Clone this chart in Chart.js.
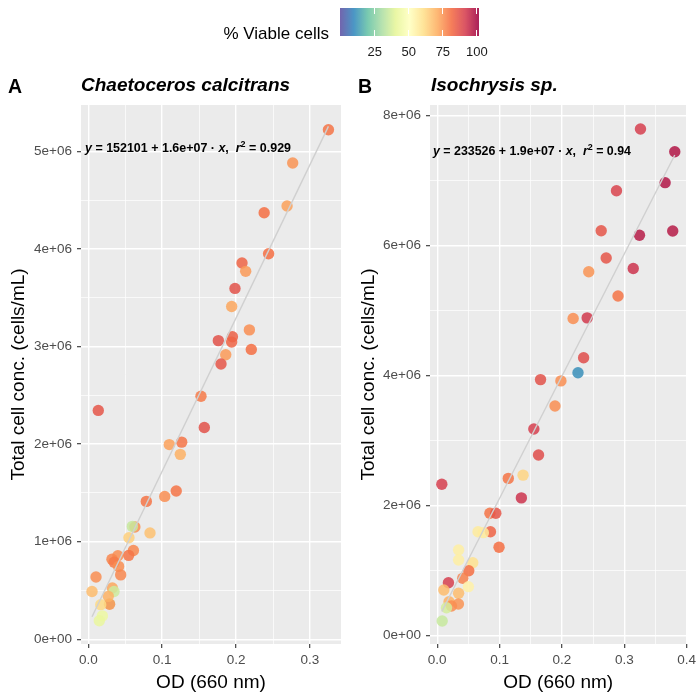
<!DOCTYPE html>
<html>
<head>
<meta charset="utf-8">
<script src="https://cdn.jsdelivr.net/npm/chart.js@4.4.1/dist/chart.umd.min.js"></script>
<style>
  body { margin: 0; background: #fff; font-family: "Liberation Sans", Arial, Helvetica, sans-serif; }
  #wrap { position: relative; width: 700px; height: 700px; overflow: hidden; }
  canvas { position: absolute; top: 0; }
  .abs { position: absolute; white-space: nowrap; color: #000; }
  .tag { font-weight: bold; font-size: 19.5px; line-height: 19.5px; }
  .ttl { font-weight: bold; font-style: italic; font-size: 19px; line-height: 19px; }
  .legtick { font-size: 13px; line-height: 13px; transform: translateX(-50%); color: #1a1a1a; }
  .barmark { position: absolute; width: 1px; background: #fff; }
</style>
</head>
<body>
<div id="wrap">
  <canvas id="chartA" width="350" height="700" style="left:0"></canvas>
  <canvas id="chartB" width="350" height="700" style="left:350px"></canvas>

  <div class="abs" style="right:371px; top:25px; font-size:17px; line-height:17px;">% Viable cells</div>
  <div id="colorbar" style="position:absolute; left:340px; top:8px; width:139px; height:28px;"></div>
  <div id="legendTicks"></div>

  <div class="abs tag" style="left:8px; top:77px;">A</div>
  <div class="abs ttl" style="left:81px; top:75px;">Chaetoceros calcitrans</div>
  <div class="abs tag" style="left:358px; top:77px;">B</div>
  <div class="abs ttl" style="left:431px; top:75px;">Isochrysis sp.</div>
</div>

<script>
// ---------- data: panel A (Chaetoceros calcitrans) ----------
const odA = [0.0285, 0.0288, 0.325, 0.2766, 0.269, 0.238, 0.244, 0.208, 0.213, 0.1985, 0.194, 0.218,
             0.195, 0.194, 0.176, 0.2206, 0.186, 0.1796, 0.1525, 0.0135, 0.157, 0.1264, 0.1096, 0.1245,
             0.119, 0.1034, 0.0785, 0.0835, 0.063, 0.0596, 0.055, 0.061, 0.0546, 0.040, 0.032, 0.035,
             0.041, 0.0438, 0.0104, 0.005, 0.0325, 0.0348, 0.027, 0.0168, 0.019, 0.0149];
const cellsA = [365000, 360000, 5220000, 4880000, 4440000, 4370000, 3950000, 3855000, 3770000, 3595000, 3410000, 3170000,
                3100000, 3045000, 3060000, 2970000, 2915000, 2820000, 2490000, 2345000, 2170000, 2020000, 1995000, 1895000,
                1520000, 1464000, 1413000, 1090000, 1150000, 1157000, 1040000, 910000, 860000, 857000, 820000, 790000,
                747000, 660000, 638000, 490000, 525000, 490000, 440000, 355000, 240000, 190000];
const viableA = [34, 75, 80, 75, 73, 81, 81, 83, 74, 87, 72, 76,
                 84, 83, 87, 81, 74, 86, 79, 86, 87, 80, 73, 70,
                 80, 76, 80, 67, 76, 35, 64, 77, 80, 76, 77, 79,
                 76, 77, 76, 68, 72, 36, 70, 62, 43, 42];

// ---------- data: panel B (Isochrysis sp.) ----------
const odB = [0.326, 0.381, 0.3655, 0.2875, 0.263, 0.3244, 0.3777, 0.271, 0.3144, 0.243, 0.290, 0.218,
             0.2405, 0.2348, 0.2258, 0.1657, 0.1984, 0.1889, 0.155, 0.1625, 0.1377, 0.114, 0.0074, 0.135,
             0.0845, 0.094, 0.0854, 0.0655, 0.074, 0.0992, 0.0343, 0.0343, 0.057, 0.0506, 0.041, 0.018,
             0.050, 0.0106, 0.0343, 0.019, 0.034, 0.0228, 0.0149, 0.008];
const cellsB = [7795000, 7446000, 6970000, 6846000, 6230000, 6160000, 6226000, 5810000, 5650000, 5600000, 5226000, 4880000,
                4890000, 4277000, 4046000, 3940000, 3920000, 3534000, 3180000, 2780000, 2470000, 2420000, 2330000, 2120000,
                1883000, 1883000, 1600000, 1600000, 1585000, 1360000, 1318000, 1165000, 1123000, 1000000, 883000, 815000,
                754000, 703000, 652000, 523000, 488000, 457000, 430000, 226000];
const viableB = [91, 98, 98, 90, 86, 97, 97, 86, 93, 75, 80, 76,
                 92, 88, 11, 87, 76, 76, 91, 88, 63, 80, 91, 93,
                 80, 86, 83, 57, 57, 81, 56, 56, 60, 81, 78, 91,
                 55, 68, 68, 70, 75, 76, 37, 35];

// fitted lines (from the printed equations)
const fitA = { intercept: 152101, slope: 1.57e7 };
const fitB = { intercept: 233526, slope: 1.88e7 };

// axis breaks
const xMajorA = [0, 0.1, 0.2, 0.3];
const xMinorA = [0.05, 0.15, 0.25];
const yMajorA = [0, 1e6, 2e6, 3e6, 4e6, 5e6];
const yMinorA = [0.5e6, 1.5e6, 2.5e6, 3.5e6, 4.5e6];
const xMajorB = [0, 0.1, 0.2, 0.3, 0.4];
const xMinorB = [0.05, 0.15, 0.25, 0.35];
const yMajorB = [0, 2e6, 4e6, 6e6, 8e6];
const yMinorB = [1e6, 3e6, 5e6, 7e6];

// colour scale: % viable cells
const legendBreaks = [25, 50, 75, 100];
const VIAB_MIN = -0.5, VIAB_MAX = 101.5;
const spectral = ['#5E4FA2', '#3288BD', '#66C2A5', '#ABDDA4', '#E6F598', '#FFFFBF',
                  '#FEE08B', '#FDAE61', '#F46D43', '#D53E4F', '#9E0142'];

const FONT = '"Liberation Sans", Arial, Helvetica, sans-serif';

function hexToRgb(h) {
    return [parseInt(h.slice(1, 3), 16), parseInt(h.slice(3, 5), 16), parseInt(h.slice(5, 7), 16)];
}

function viabColor(v, alpha) {
    let t = (v - VIAB_MIN) / (VIAB_MAX - VIAB_MIN);
    t = Math.min(1, Math.max(0, t)) * (spectral.length - 1);
    const i = Math.min(Math.floor(t), spectral.length - 2);
    const f = t - i;
    const a = hexToRgb(spectral[i]), b = hexToRgb(spectral[i + 1]);
    const c = a.map((ch, k) => Math.round(ch + (b[k] - ch) * f));
    return `rgba(${c[0]},${c[1]},${c[2]},${alpha})`;
}

function sci(v) {
    if (v === 0) return '0e+00';
    const e = Math.floor(Math.log10(Math.abs(v)) + 1e-9);
    const m = Math.round(v / Math.pow(10, e));
    return `${m}e+${String(e).padStart(2, '0')}`;
}

function isIn(v, list) {
    return list.some(m => Math.abs(m - v) < 1e-9 * Math.max(1, Math.abs(m)));
}

// grey panel background
const panelBg = {
    id: 'panelBg',
    beforeDraw(chart) {
        const { ctx, chartArea: a } = chart;
        ctx.save();
        ctx.fillStyle = '#EBEBEB';
        ctx.fillRect(a.left, a.top, a.right - a.left, a.bottom - a.top);
        ctx.restore();
    }
};

// regression equation label
function equationPlugin(parts, leftPx, baseY, targetWidth) {
    return {
        id: 'equation',
        afterDatasetsDraw(chart) {
            const ctx = chart.ctx;
            const size = 12.5;
            const fontFor = p => `${p.it ? 'italic ' : ''}bold ${p.sup ? size * 0.72 : size}px ${FONT}`;
            let natural = 0;
            parts.forEach(p => { ctx.font = fontFor(p); natural += ctx.measureText(p.t).width; });
            const sx = targetWidth / natural;
            ctx.save();
            ctx.translate(leftPx, baseY);
            ctx.scale(sx, 1);
            ctx.fillStyle = '#000';
            ctx.textBaseline = 'alphabetic';
            let x = 0;
            parts.forEach(p => {
                ctx.font = fontFor(p);
                ctx.fillText(p.t, x, p.sup ? -size * 0.42 : 0);
                x += ctx.measureText(p.t).width;
            });
            ctx.restore();
        }
    };
}

function eqParts(intercept, slopeTxt, r2) {
    return [
        { t: 'y', it: true }, { t: ` = ${intercept} + ${slopeTxt} · ` }, { t: 'x', it: true },
        { t: ',  ' }, { t: 'r', it: true }, { t: '2', sup: true }, { t: ` = ${r2}` }
    ];
}

function axisOptions(cfg) {
    return {
        type: 'linear',
        min: cfg.min,
        max: cfg.max,
        afterBuildTicks: s => {
            s.ticks = cfg.major.concat(cfg.minor).sort((a, b) => a - b).map(v => ({ value: v }));
        },
        afterFit: s => {
            if (cfg.horizontal) s.height = cfg.size; else s.width = cfg.size;
        },
        border: { display: false },
        grid: {
            color: '#FFFFFF',
            lineWidth: c => (c.tick && isIn(c.tick.value, cfg.major)) ? 1.4 : 0.7,
            tickColor: c => (c.tick && isIn(c.tick.value, cfg.major)) ? '#333333' : 'rgba(0,0,0,0)',
            tickLength: 4,
            tickWidth: 1.1,
            drawTicks: true
        },
        ticks: {
            autoSkip: false,
            maxRotation: 0,
            padding: cfg.horizontal ? 4 : 5,
            color: '#4D4D4D',
            font: { family: FONT, size: 13.5 },
            callback: v => isIn(v, cfg.major) ? cfg.fmt(v) : ''
        },
        title: {
            display: true,
            text: cfg.title,
            color: '#000',
            font: { family: FONT, size: 19 },
            padding: cfg.horizontal ? { top: 2, bottom: 6 } : { top: 7, bottom: 2 }
        }
    };
}

function makePanel(canvasId, od, cells, viable, fit, xCfg, yCfg, padRight, eq) {
    const pts = od.map((x, i) => ({ x: x, y: cells[i] }));
    const colors = viable.map(v => viabColor(v, 0.85));
    const xLo = Math.min(...od), xHi = Math.max(...od);
    const fitLine = [xLo, xHi].map(x => ({ x: x, y: fit.intercept + fit.slope * x }));

    return new Chart(document.getElementById(canvasId).getContext('2d'), {
        type: 'scatter',
        data: {
            datasets: [
                {
                    data: fitLine,
                    showLine: true,
                    borderColor: '#D0D0D0',
                    borderWidth: 1.4,
                    pointRadius: 0,
                    order: 0
                },
                {
                    data: pts,
                    backgroundColor: colors,
                    borderWidth: 0,
                    pointRadius: 5.7,
                    order: 1
                }
            ]
        },
        options: {
            responsive: false,
            animation: false,
            layout: { padding: { top: 105, right: padRight, left: 0, bottom: 0 } },
            plugins: { legend: { display: false }, tooltip: { enabled: false } },
            scales: {
                x: axisOptions(xCfg),
                y: axisOptions(yCfg)
            }
        },
        plugins: [panelBg, equationPlugin(eq.parts, eq.left, eq.base, eq.width)]
    });
}

const fmtX = v => v.toFixed(1);

makePanel('chartA', odA, cellsA, viableA, fitA,
    { horizontal: true, size: 56, min: -0.0099, max: 0.342, major: xMajorA, minor: xMinorA, fmt: fmtX, title: 'OD (660 nm)' },
    { horizontal: false, size: 81, min: -48000, max: 5474000, major: yMajorA, minor: yMinorA, fmt: sci, title: 'Total cell conc. (cells/mL)' },
    9,
    { parts: eqParts(152101, '1.6e+07', '0.929'), left: 85, base: 152, width: 206 });

makePanel('chartB', odB, cellsB, viableB, fitB,
    { horizontal: true, size: 56, min: -0.01155, max: 0.3998, major: xMajorB, minor: xMinorB, fmt: fmtX, title: 'OD (660 nm)' },
    { horizontal: false, size: 80, min: -128000, max: 8165000, major: yMajorB, minor: yMinorB, fmt: sci, title: 'Total cell conc. (cells/mL)' },
    10,
    { parts: eqParts(233526, '1.9e+07', '0.94'), left: 83, base: 155, width: 198 });

// ---------- colour bar legend ----------
(function buildLegend() {
    const barLeft = 340, barWidth = 139, barTop = 8, barHeight = 28;
    const stops = spectral.map((c, i) => {
        const v = VIAB_MIN + (VIAB_MAX - VIAB_MIN) * i / (spectral.length - 1);
        const pct = (v - VIAB_MIN) / (VIAB_MAX - VIAB_MIN) * 100;
        return `${c} ${pct.toFixed(2)}%`;
    });
    const bar = document.getElementById('colorbar');
    bar.style.background = `linear-gradient(to right, ${stops.join(', ')})`;
    bar.style.opacity = '0.88';

    const holder = document.getElementById('legendTicks');
    legendBreaks.forEach(v => {
        const px = barLeft + (v - VIAB_MIN) / (VIAB_MAX - VIAB_MIN) * barWidth;
        const lab = document.createElement('div');
        lab.className = 'abs legtick';
        lab.style.left = px + 'px';
        lab.style.top = '45px';
        lab.textContent = String(v);
        holder.appendChild(lab);
        [barTop, barTop + barHeight - 5.6].forEach(t => {
            const mk = document.createElement('div');
            mk.className = 'barmark';
            mk.style.left = (px - 0.5) + 'px';
            mk.style.top = t + 'px';
            mk.style.height = '5.6px';
            holder.appendChild(mk);
        });
    });
})();
</script>
</body>
</html>
